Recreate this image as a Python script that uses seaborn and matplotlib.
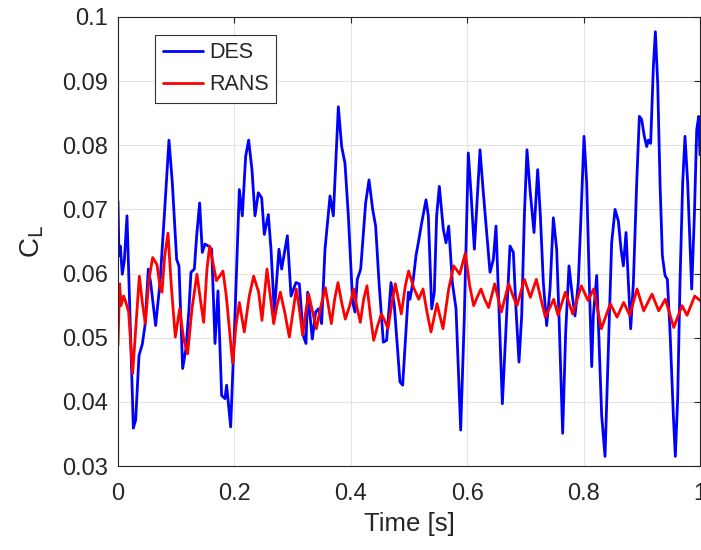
import matplotlib
matplotlib.use("Agg")
import matplotlib.pyplot as plt
import seaborn as sns
import pandas as pd

# ---- data ----
des_t = [0.0000, 0.0017, 0.0040, 0.0074, 0.0109, 0.0155, 0.0206, 0.0264, 0.0304, 0.0361,
         0.0418, 0.0464, 0.0521, 0.0561, 0.0607, 0.0647, 0.0722, 0.0796, 0.0876, 0.0934,
         0.1008, 0.1048, 0.1111, 0.1168, 0.1220, 0.1254, 0.1312, 0.1352, 0.1403, 0.1449,
         0.1495, 0.1552, 0.1610, 0.1667, 0.1718, 0.1781, 0.1838, 0.1867, 0.1936, 0.2010,
         0.2085, 0.2136, 0.2194, 0.2245, 0.2302, 0.2354, 0.2411, 0.2469, 0.2514, 0.2583,
         0.2629, 0.2686, 0.2766, 0.2812, 0.2910, 0.2973, 0.3058, 0.3116, 0.3184, 0.3230,
         0.3259, 0.3339, 0.3396, 0.3442, 0.3499, 0.3557, 0.3643, 0.3700, 0.3786, 0.3843,
         0.3900, 0.3958, 0.4032, 0.4072, 0.4112, 0.4170, 0.4255, 0.4313, 0.4376, 0.4427,
         0.4485, 0.4559, 0.4616, 0.4691, 0.4748, 0.4845, 0.4891, 0.4989, 0.5017, 0.5074,
         0.5120, 0.5160, 0.5218, 0.5292, 0.5332, 0.5390, 0.5435, 0.5475, 0.5521, 0.5590,
         0.5636, 0.5682, 0.5745, 0.5808, 0.5888, 0.5951, 0.6019, 0.6065, 0.6123, 0.6220,
         0.6277, 0.6392, 0.6449, 0.6495, 0.6604, 0.6678, 0.6735, 0.6793, 0.6838, 0.6890,
         0.6936, 0.6982, 0.7027, 0.7079, 0.7148, 0.7211, 0.7257, 0.7308, 0.7365, 0.7423,
         0.7480, 0.7537, 0.7577, 0.7640, 0.7692, 0.7749, 0.7806, 0.7852, 0.7909, 0.7955,
         0.8007, 0.8053, 0.8098, 0.8139, 0.8167, 0.8225, 0.8270, 0.8310, 0.8368, 0.8425,
         0.8482, 0.8540, 0.8597, 0.8643, 0.8683, 0.8729, 0.8769, 0.8809, 0.8855, 0.8912,
         0.8958, 0.8998, 0.9043, 0.9084, 0.9112, 0.9152, 0.9198, 0.9233, 0.9273, 0.9313,
         0.9353, 0.9399, 0.9439, 0.9485, 0.9542, 0.9576, 0.9616, 0.9656, 0.9702, 0.9742,
         0.9788, 0.9857, 0.9903, 0.9943, 0.9977, 1.0000]
des_cl = [0.0713, 0.0628, 0.0643, 0.0599, 0.0620, 0.0690, 0.0534, 0.0359, 0.0372, 0.0472,
          0.0490, 0.0519, 0.0607, 0.0586, 0.0550, 0.0519, 0.0586, 0.0690, 0.0808, 0.0741,
          0.0622, 0.0612, 0.0452, 0.0483, 0.0545, 0.0602, 0.0607, 0.0659, 0.0710, 0.0633,
          0.0646, 0.0643, 0.0638, 0.0491, 0.0573, 0.0410, 0.0405, 0.0426, 0.0361, 0.0534,
          0.0731, 0.0690, 0.0783, 0.0808, 0.0762, 0.0690, 0.0726, 0.0718, 0.0661, 0.0692,
          0.0638, 0.0540, 0.0638, 0.0607, 0.0659, 0.0565, 0.0586, 0.0584, 0.0503, 0.0491,
          0.0571, 0.0498, 0.0540, 0.0545, 0.0522, 0.0638, 0.0721, 0.0690, 0.0860, 0.0798,
          0.0772, 0.0690, 0.0555, 0.0540, 0.0591, 0.0607, 0.0710, 0.0746, 0.0700, 0.0674,
          0.0586, 0.0493, 0.0496, 0.0586, 0.0550, 0.0431, 0.0426, 0.0571, 0.0560, 0.0591,
          0.0628, 0.0648, 0.0679, 0.0715, 0.0690, 0.0545, 0.0571, 0.0690, 0.0736, 0.0669,
          0.0648, 0.0674, 0.0586, 0.0545, 0.0356, 0.0534, 0.0788, 0.0726, 0.0638, 0.0793,
          0.0726, 0.0602, 0.0622, 0.0674, 0.0397, 0.0534, 0.0643, 0.0633, 0.0545, 0.0462,
          0.0534, 0.0690, 0.0793, 0.0731, 0.0664, 0.0762, 0.0690, 0.0586, 0.0519, 0.0576,
          0.0687, 0.0638, 0.0534, 0.0351, 0.0509, 0.0612, 0.0565, 0.0534, 0.0586, 0.0690,
          0.0814, 0.0741, 0.0586, 0.0455, 0.0534, 0.0597, 0.0483, 0.0379, 0.0315, 0.0483,
          0.0648, 0.0700, 0.0682, 0.0638, 0.0612, 0.0664, 0.0586, 0.0514, 0.0586, 0.0741,
          0.0845, 0.0840, 0.0814, 0.0798, 0.0808, 0.0803, 0.0922, 0.0977, 0.0896, 0.0741,
          0.0628, 0.0597, 0.0591, 0.0509, 0.0379, 0.0315, 0.0405, 0.0586, 0.0741, 0.0814,
          0.0741, 0.0576, 0.0690, 0.0824, 0.0845, 0.0785]

rans_t = [0.0000, 0.0029, 0.0052, 0.0097, 0.0143, 0.0183, 0.0252, 0.0309, 0.0367, 0.0418,
          0.0470, 0.0533, 0.0596, 0.0670, 0.0727, 0.0756, 0.0802, 0.0859, 0.0916, 0.0985,
          0.1060, 0.1128, 0.1197, 0.1271, 0.1357, 0.1415, 0.1472, 0.1529, 0.1575, 0.1632,
          0.1690, 0.1747, 0.1804, 0.1861, 0.1970, 0.2027, 0.2085, 0.2170, 0.2256, 0.2331,
          0.2417, 0.2474, 0.2560, 0.2617, 0.2675, 0.2732, 0.2789, 0.2864, 0.2944, 0.3007,
          0.3064, 0.3116, 0.3173, 0.3225, 0.3276, 0.3345, 0.3408, 0.3488, 0.3563, 0.3614,
          0.3666, 0.3723, 0.3780, 0.3843, 0.3906, 0.3981, 0.4049, 0.4107, 0.4164, 0.4221,
          0.4278, 0.4336, 0.4393, 0.4462, 0.4525, 0.4582, 0.4639, 0.4708, 0.4765, 0.4823,
          0.4868, 0.4937, 0.4994, 0.5080, 0.5166, 0.5241, 0.5309, 0.5378, 0.5481, 0.5584,
          0.5682, 0.5768, 0.5871, 0.5968, 0.6043, 0.6111, 0.6180, 0.6237, 0.6300, 0.6369,
          0.6472, 0.6586, 0.6712, 0.6787, 0.6856, 0.6982, 0.7085, 0.7188, 0.7268, 0.7343,
          0.7486, 0.7560, 0.7686, 0.7812, 0.7961, 0.8076, 0.8173, 0.8305, 0.8459, 0.8574,
          0.8688, 0.8792, 0.8918, 0.9032, 0.9175, 0.9290, 0.9404, 0.9548, 0.9691, 0.9777,
          0.9909, 1.0000]
rans_cl = [0.0488, 0.0584, 0.0550, 0.0565, 0.0553, 0.0540, 0.0444, 0.0519, 0.0596, 0.0555,
           0.0522, 0.0591, 0.0625, 0.0614, 0.0576, 0.0571, 0.0627, 0.0663, 0.0581, 0.0501,
           0.0545, 0.0498, 0.0475, 0.0545, 0.0599, 0.0560, 0.0524, 0.0607, 0.0643, 0.0617,
           0.0589, 0.0596, 0.0604, 0.0565, 0.0460, 0.0519, 0.0555, 0.0509, 0.0565, 0.0596,
           0.0571, 0.0527, 0.0607, 0.0565, 0.0522, 0.0550, 0.0571, 0.0540, 0.0501, 0.0540,
           0.0576, 0.0545, 0.0504, 0.0540, 0.0568, 0.0540, 0.0514, 0.0550, 0.0578, 0.0550,
           0.0522, 0.0560, 0.0586, 0.0555, 0.0529, 0.0550, 0.0576, 0.0547, 0.0524, 0.0560,
           0.0581, 0.0535, 0.0496, 0.0519, 0.0537, 0.0527, 0.0514, 0.0555, 0.0584, 0.0558,
           0.0537, 0.0581, 0.0604, 0.0578, 0.0560, 0.0576, 0.0540, 0.0509, 0.0553, 0.0514,
           0.0576, 0.0612, 0.0599, 0.0632, 0.0581, 0.0550, 0.0565, 0.0576, 0.0560, 0.0547,
           0.0584, 0.0540, 0.0584, 0.0565, 0.0550, 0.0591, 0.0563, 0.0591, 0.0560, 0.0532,
           0.0560, 0.0535, 0.0571, 0.0537, 0.0581, 0.0558, 0.0576, 0.0514, 0.0553, 0.0532,
           0.0555, 0.0535, 0.0576, 0.0542, 0.0568, 0.0542, 0.0560, 0.0516, 0.0550, 0.0535,
           0.0565, 0.0558]

series_names = ["DES", "RANS"]
series_colors = ["#0000ff", "#ff0000"]
x_ticks = [0, 0.2, 0.4, 0.6, 0.8, 1.0]
x_ticklabels = ["0", "0.2", "0.4", "0.6", "0.8", "1"]
y_ticks = [0.03, 0.04, 0.05, 0.06, 0.07, 0.08, 0.09, 0.10]
y_ticklabels = ["0.03", "0.04", "0.05", "0.06", "0.07", "0.08", "0.09", "0.1"]

df = pd.concat([
    pd.DataFrame({"t": des_t, "CL": des_cl, "case": "DES"}),
    pd.DataFrame({"t": rans_t, "CL": rans_cl, "case": "RANS"}),
], ignore_index=True)

sns.set_style("white")
plt.rcParams["font.family"] = ["Liberation Sans", "DejaVu Sans"]
plt.rcParams["mathtext.default"] = "regular"

txt = "#262626"
fig = plt.figure(figsize=(7.01, 5.5), dpi=100)
ax = fig.add_axes([0.1683, 0.1527, 0.8303, 0.8164])

sns.lineplot(data=df, x="t", y="CL", hue="case", hue_order=series_names,
             palette=dict(zip(series_names, series_colors)), linewidth=2.0,
             estimator=None, sort=False, ax=ax)
for ln in ax.get_lines():
    ln.set_solid_joinstyle("round")

ax.set_xlim(0, 1)
ax.set_ylim(0.03, 0.1)
ax.set_xticks(x_ticks)
ax.set_xticklabels(x_ticklabels)
ax.set_yticks(y_ticks)
ax.set_yticklabels(y_ticklabels)
ax.grid(True, color="#e3e3e3", linewidth=0.8)
ax.set_axisbelow(True)
for s in ax.spines.values():
    s.set_visible(True)
    s.set_color(txt)
    s.set_linewidth(0.8)
ax.tick_params(direction="in", length=4.5, width=0.8, colors=txt,
               labelsize=17, top=True, right=True)
ax.tick_params(axis="y", pad=7)
ax.tick_params(axis="x", pad=12)

ax.set_xlabel("Time [s]", fontsize=18.5, color=txt, labelpad=5)
ax.set_ylabel(r"C$_{\mathrm{L}}$", fontsize=20, color=txt, labelpad=12)

leg = ax.legend(loc="upper left", bbox_to_anchor=(0.0636, 0.96), borderaxespad=0,
                fontsize=15.5, frameon=True, fancybox=False, handlelength=1.9,
                handletextpad=0.25, borderpad=0.35, labelspacing=0.5)
leg.get_frame().set_edgecolor("#333333")
leg.get_frame().set_linewidth(0.8)
leg.get_frame().set_alpha(1)
for line in leg.get_lines():
    line.set_linewidth(2.0)

fig.savefig("out.png", dpi=100)
